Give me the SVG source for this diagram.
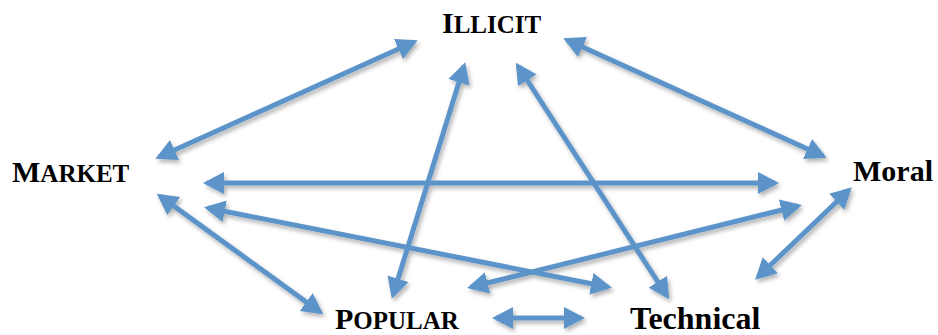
<svg xmlns="http://www.w3.org/2000/svg" width="938" height="335" viewBox="0 0 938 335">
<defs>
<filter id="sh" x="-20%" y="-20%" width="140%" height="140%">
<feDropShadow dx="2" dy="3" stdDeviation="2" flood-color="#000" flood-opacity="0.3"/>
</filter>
<marker id="ah" markerUnits="userSpaceOnUse" markerWidth="24" markerHeight="26" viewBox="0 -13 24 26" refX="17" refY="0" orient="auto-start-reverse">
<path d="M0,-11 L21,0 L0,11 Z" fill="#5b94ca"/>
</marker>
<style>
.c line{stroke:#5b94ca;stroke-width:5;marker-start:url(#ah);marker-end:url(#ah)}
.lbl{font-family:"Liberation Serif","Times New Roman",serif;font-weight:bold;fill:#000;font-size:30px}
.sc{font-size:25px}
</style>
</defs>
<rect width="938" height="335" fill="#fff"/>
<g id="connectors" class="c" filter="url(#sh)">
<line x1="159" y1="157" x2="414" y2="42"/>
<line x1="567" y1="40" x2="823" y2="156"/>
<line x1="207" y1="183" x2="775" y2="183"/>
<line x1="208" y1="208" x2="608" y2="287"/>
<line x1="471" y1="287" x2="798" y2="206"/>
<line x1="160" y1="196" x2="320" y2="312"/>
<line x1="464" y1="66" x2="393" y2="295"/>
<line x1="518" y1="66" x2="667" y2="296"/>
<line x1="849" y1="190" x2="758" y2="277"/>
<line x1="496" y1="318" x2="581" y2="318"/>
</g>
<g id="illicit"><text class="lbl" x="442" y="33">I<tspan class="sc">LLICIT</tspan></text></g>
<g id="market"><text class="lbl" x="12" y="182">M<tspan class="sc">ARKET</tspan></text></g>
<g id="moral"><text class="lbl" x="853" y="181">Moral</text></g>
<g id="popular"><text class="lbl" x="335" y="329">P<tspan class="sc">OPULAR</tspan></text></g>
<g id="technical"><text class="lbl" x="630" y="329" style="font-size:32px">Technical</text></g>
</svg>
